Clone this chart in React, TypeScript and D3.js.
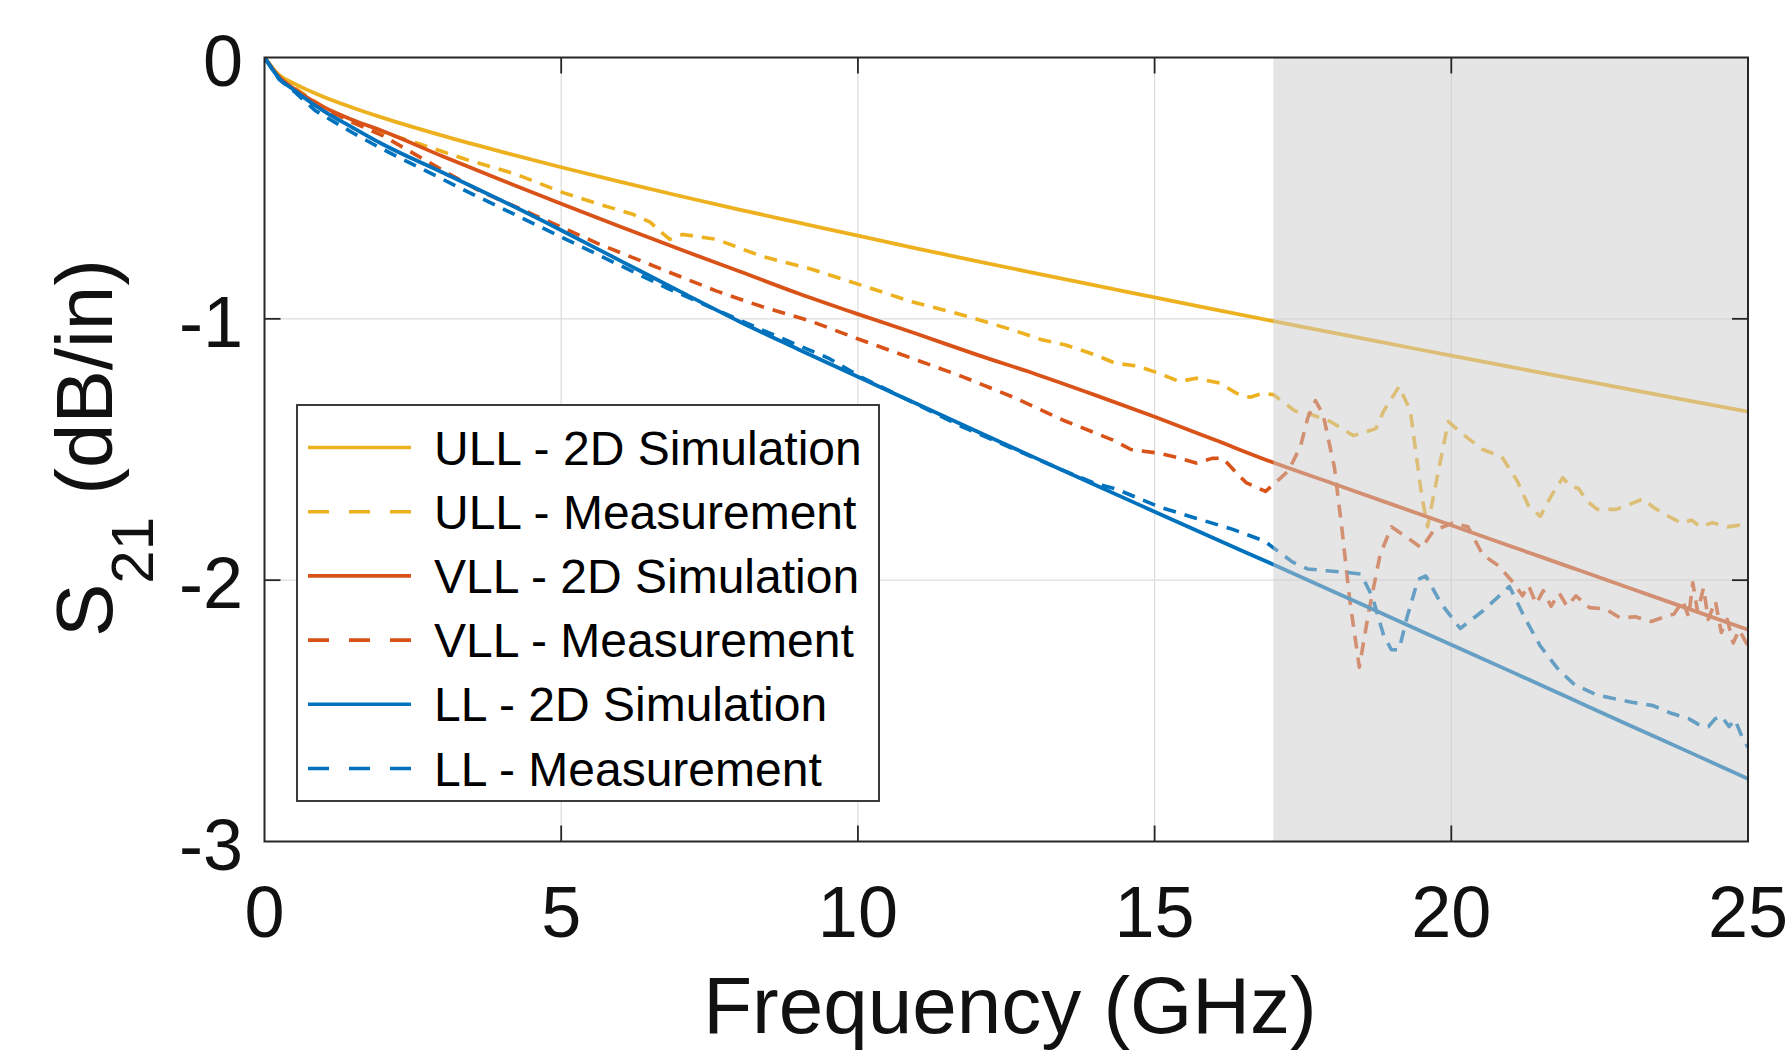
import React from "react";
import * as d3 from "d3";

const W = 1790;
const H = 1051;

// ---------- data ----------
const xTicks = [0, 5, 10, 15, 20, 25];
const yTicks = [0, -1, -2, -3];

const simFreq = [0, 0.25, 0.5, 1, 1.5, 2, 3, 4, 5, 6, 7, 8, 9, 10, 11, 12, 13, 14, 15, 16, 17, 18, 19, 20, 21, 22, 23, 24, 25];

const ullSim = [0, -0.068, -0.1, -0.151, -0.193, -0.231, -0.299, -0.361, -0.42, -0.476, -0.53, -0.582, -0.632, -0.682, -0.731, -0.779, -0.826, -0.872, -0.918, -0.964, -1.009, -1.053, -1.097, -1.141, -1.184, -1.227, -1.27, -1.313, -1.355];

const vllSim = [0, -0.075, -0.12, -0.19, -0.24, -0.282, -0.378, -0.47, -0.56, -0.648, -0.734, -0.818, -0.903, -0.982, -1.058, -1.137, -1.212, -1.292, -1.375, -1.462, -1.55, -1.63, -1.71, -1.79, -1.87, -1.95, -2.03, -2.11, -2.19];

const llSim = [0, -0.08, -0.125, -0.205, -0.27, -0.333, -0.44, -0.548, -0.661, -0.778, -0.895, -1.01, -1.117, -1.222, -1.326, -1.43, -1.533, -1.636, -1.738, -1.84, -1.94, -2.042, -2.145, -2.247, -2.349, -2.452, -2.555, -2.657, -2.76];

const ullMeas: [number, number][] = [
  [0, 0], [0.25, -0.075], [0.5, -0.115], [1, -0.19], [1.5, -0.245], [2, -0.287], [2.55, -0.326],
  [3.4, -0.39], [4.24, -0.447], [5.03, -0.517], [5.65, -0.562], [6.21, -0.6], [6.5, -0.63],
  [6.66, -0.664], [6.83, -0.696], [7.05, -0.677], [7.62, -0.696], [8.38, -0.761], [9.22, -0.81],
  [10.04, -0.87], [10.9, -0.934], [11.76, -0.985], [12.6, -1.042], [13.1, -1.08], [13.5, -1.1],
  [14.0, -1.138], [14.34, -1.17], [14.7, -1.18], [15.07, -1.208], [15.42, -1.24], [15.7, -1.227],
  [16.1, -1.246], [16.38, -1.285], [16.61, -1.3], [16.83, -1.285], [17.0, -1.29], [17.37, -1.353],
  [17.64, -1.366], [17.96, -1.393], [18.35, -1.447], [18.73, -1.42], [18.86, -1.353], [19.12, -1.259],
  [19.31, -1.353], [19.5, -1.675], [19.6, -1.796], [19.76, -1.608], [19.95, -1.393], [20.15, -1.434],
  [20.53, -1.5], [20.85, -1.527], [21.11, -1.62], [21.3, -1.715], [21.5, -1.756], [21.69, -1.675],
  [21.88, -1.608], [22.0, -1.64], [22.14, -1.648], [22.3, -1.7], [22.46, -1.729], [22.78, -1.729],
  [23.0, -1.71], [23.23, -1.689], [23.4, -1.72], [23.55, -1.742], [23.88, -1.782], [24.05, -1.77],
  [24.2, -1.796], [24.4, -1.78], [24.65, -1.796], [24.85, -1.79], [25, -1.81],
];

const vllMeas: [number, number][] = [
  [0, 0], [0.25, -0.078], [0.5, -0.12], [1, -0.195], [1.5, -0.25], [2, -0.3], [2.83, -0.409],
  [3.62, -0.51], [4.52, -0.6], [5.65, -0.715], [6.77, -0.817], [7.62, -0.894], [8.38, -0.953],
  [9.22, -1.01], [10.04, -1.08], [10.9, -1.15], [11.76, -1.221], [12.6, -1.298], [13.45, -1.387],
  [14.3, -1.464], [14.6, -1.5], [15.07, -1.514], [15.42, -1.533], [15.7, -1.552], [15.97, -1.534],
  [16.15, -1.533], [16.38, -1.59], [16.55, -1.628], [16.87, -1.66], [17.07, -1.62], [17.26, -1.58],
  [17.46, -1.487], [17.58, -1.38], [17.71, -1.313], [17.84, -1.366], [18.03, -1.568], [18.16, -1.81],
  [18.29, -2.078], [18.45, -2.333], [18.61, -2.119], [18.8, -1.903], [18.99, -1.796], [19.25, -1.836],
  [19.5, -1.877], [19.7, -1.81], [20.02, -1.782], [20.28, -1.796], [20.53, -1.903], [20.79, -1.944],
  [21.05, -2.01], [21.2, -2.06], [21.3, -2.02], [21.43, -2.09], [21.55, -2.04], [21.68, -2.1],
  [21.82, -2.05], [21.95, -2.1], [22.1, -2.06], [22.33, -2.105], [22.6, -2.11], [22.85, -2.145],
  [23.1, -2.14], [23.37, -2.158], [23.6, -2.14], [23.75, -2.13], [23.9, -2.08], [24.0, -2.14],
  [24.07, -2.01], [24.15, -2.12], [24.25, -2.03], [24.33, -2.15], [24.45, -2.08], [24.55, -2.2],
  [24.65, -2.15], [24.75, -2.24], [24.85, -2.19], [25, -2.252],
];

const llMeas: [number, number][] = [
  [0, 0], [0.25, -0.085], [0.5, -0.13], [0.86, -0.204], [1.5, -0.29], [1.99, -0.351], [3.4, -0.511],
  [5.03, -0.69], [6.77, -0.881], [8.38, -1.042], [9.5, -1.15], [10.04, -1.221], [11.76, -1.413],
  [13.45, -1.579], [14.0, -1.63], [14.34, -1.65], [15.07, -1.719], [15.68, -1.762], [16.27, -1.802],
  [16.85, -1.85], [17.32, -1.93], [17.58, -1.957], [17.9, -1.964], [18.22, -1.97], [18.48, -1.977],
  [18.67, -2.064], [18.86, -2.212], [18.99, -2.266], [19.12, -2.266], [19.25, -2.145], [19.44, -1.997],
  [19.57, -1.984], [19.83, -2.09], [20.15, -2.185], [20.53, -2.118], [20.79, -2.064], [20.98, -2.024],
  [21.24, -2.145], [21.5, -2.252], [21.82, -2.346], [22.08, -2.4], [22.46, -2.44], [23.04, -2.467],
  [23.4, -2.48], [23.68, -2.507], [24.0, -2.53], [24.15, -2.55], [24.33, -2.561], [24.45, -2.53],
  [24.55, -2.52], [24.68, -2.56], [24.78, -2.534], [24.9, -2.6], [25, -2.64],
];

const legendLabels = [
  "ULL - 2D Simulation",
  "ULL - Measurement",
  "VLL - 2D Simulation",
  "VLL - Measurement",
  "LL - 2D Simulation",
  "LL - Measurement",
];

const shadeRange = [17, 25];

// ---------- styling ----------
const COLORS = { ull: "#EDB120", vll: "#D95319", ll: "#0072BD" };
const FONT = "'Liberation Sans', Arial, Helvetica, sans-serif";
const AXIS = "#262626";

export default function App() {
  const left = 264.5, right = 1748, top = 57.5, bottom = 841.5;
  const x = d3.scaleLinear().domain([0, 25]).range([left, right]);
  const y = d3.scaleLinear().domain([-3, 0]).range([bottom, top]);

  const simLine = d3
    .line<[number, number]>()
    .x((d) => x(d[0]))
    .y((d) => y(d[1]))
    .curve(d3.curveMonotoneX);
  const measLine = d3
    .line<[number, number]>()
    .x((d) => x(d[0]))
    .y((d) => y(d[1]))
    .curve(d3.curveLinear);

  const zip = (vals: number[]) => simFreq.map((f, i) => [f, vals[i]] as [number, number]);

  const series = [
    { d: simLine(zip(ullSim)), color: COLORS.ull, dash: null },
    { d: measLine(ullMeas), color: COLORS.ull, dash: "13,9" },
    { d: simLine(zip(vllSim)), color: COLORS.vll, dash: null },
    { d: measLine(vllMeas), color: COLORS.vll, dash: "13,9" },
    { d: simLine(zip(llSim)), color: COLORS.ll, dash: null },
    { d: measLine(llMeas), color: COLORS.ll, dash: "13,9" },
  ];

  const tickLen = 16;

  // legend geometry
  const lgX = 297, lgY = 405, lgW = 582, lgH = 396;
  const rowY0 = 447.5, rowStep = 64.2;

  return (
    <svg
      width={W}
      height={H}
      viewBox={`0 0 ${W} ${H}`}
      style={{ position: "absolute", left: 0, top: 0, background: "#fff" }}
      fontFamily={FONT}
    >
      <defs>
        <clipPath id="plotClip">
          <rect x={left} y={top} width={right - left} height={bottom - top} />
        </clipPath>
      </defs>
      <rect x={0} y={0} width={W} height={H} fill="#fff" />

      {/* grid */}
      <g stroke="#dedede" strokeWidth={1.3}>
        {xTicks.slice(1, -1).map((t) => (
          <line key={"gx" + t} x1={x(t)} x2={x(t)} y1={top} y2={bottom} />
        ))}
        {yTicks.slice(1, -1).map((t) => (
          <line key={"gy" + t} x1={left} x2={right} y1={y(t)} y2={y(t)} />
        ))}
      </g>

      {/* data */}
      <g clipPath="url(#plotClip)" fill="none" strokeLinejoin="round">
        {series.map((s, i) => (
          <path
            key={i}
            d={s.d || ""}
            stroke={s.color}
            strokeWidth={s.dash ? 3.6 : 3.8}
            strokeDasharray={s.dash || undefined}
          />
        ))}
      </g>

      {/* shaded region */}
      <rect
        x={x(shadeRange[0])}
        y={top}
        width={x(shadeRange[1]) - x(shadeRange[0])}
        height={bottom - top}
        fill="#cccccc"
        fillOpacity={0.5}
      />

      {/* ticks */}
      <g stroke={AXIS} strokeWidth={1.8}>
        {xTicks.slice(1, -1).map((t) => (
          <g key={"tx" + t}>
            <line x1={x(t)} x2={x(t)} y1={bottom} y2={bottom - tickLen} />
            <line x1={x(t)} x2={x(t)} y1={top} y2={top + tickLen} />
          </g>
        ))}
        {yTicks.slice(1, -1).map((t) => (
          <g key={"ty" + t}>
            <line x1={left} x2={left + tickLen} y1={y(t)} y2={y(t)} />
            <line x1={right} x2={right - tickLen} y1={y(t)} y2={y(t)} />
          </g>
        ))}
      </g>

      {/* axis box */}
      <rect
        x={left}
        y={top}
        width={right - left}
        height={bottom - top}
        fill="none"
        stroke={AXIS}
        strokeWidth={2}
      />

      {/* tick labels */}
      <g fill="#111" fontSize={72}>
        {xTicks.map((t) => (
          <text key={"lx" + t} x={x(t)} y={937} textAnchor="middle">
            {t}
          </text>
        ))}
        {yTicks.map((t) => (
          <text key={"ly" + t} x={243} y={y(t) + 28} textAnchor="end">
            {t}
          </text>
        ))}
      </g>

      {/* axis labels */}
      <text x={1010} y={1033} textAnchor="middle" fontSize={80} fill="#111">
        Frequency (GHz)
      </text>
      <text transform="translate(112,448) rotate(-90)" textAnchor="middle" fontSize={80} fill="#111">
        S
        <tspan fontSize={60} dy={41}>
          21
        </tspan>
        <tspan dy={-41}>{" (dB/in)"}</tspan>
      </text>

      {/* legend */}
      <rect x={lgX} y={lgY} width={lgW} height={lgH} fill="#fff" stroke={AXIS} strokeWidth={1.8} />
      {legendLabels.map((lab, i) => {
        const s = series[i];
        const cy = rowY0 + i * rowStep;
        return (
          <g key={"lg" + i}>
            <line
              x1={308}
              x2={411}
              y1={cy}
              y2={cy}
              stroke={s.color}
              strokeWidth={3.6}
              strokeDasharray={s.dash ? "21,20" : undefined}
            />
            <text x={434} y={cy + 17} fontSize={48} fill="#000">
              {lab}
            </text>
          </g>
        );
      })}
    </svg>
  );
}
